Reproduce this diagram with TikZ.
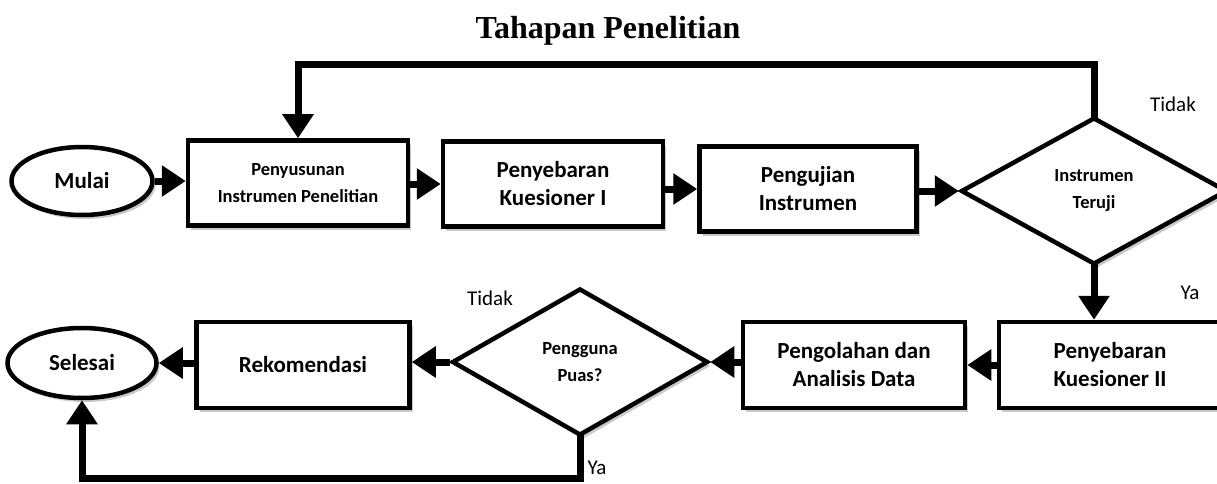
\documentclass[tikz,border=0pt]{standalone}
\usepackage{fontspec}
\setmainfont{Carlito}
\newfontfamily\titlefont{Liberation Serif}
\usetikzlibrary{arrows.meta,shapes.geometric,shadows}
\begin{document}
\begin{tikzpicture}[x=1pt,y=-1pt,
  base/.style={draw=black, line width=4.5pt, fill=white, align=center,
    drop shadow={shadow xshift=3pt, shadow yshift=-4pt, opacity=0.3, fill=black!70}},
  procbox/.style={base, rectangle, minimum width=217pt, minimum height=85pt, inner sep=2pt},
  termbox/.style={base, ellipse, minimum width=141pt, minimum height=68pt, inner sep=0pt},
  decbox/.style={base, diamond, inner sep=0pt},
  bigtxt/.style={font=\bfseries\fontsize{23}{28}\selectfont},
  smalltxt/.style={font=\bfseries\fontsize{18.5}{27}\selectfont},
  conn/.style={line width=7pt, -{Triangle[length=24pt,width=30pt]}},
  lbl/.style={font=\fontsize{21}{24}\selectfont}
]
\useasboundingbox (0,0) rectangle (1217,484);

\node[font=\titlefont\bfseries\fontsize{32}{36}\selectfont] (title) at (608,31) {Tahapan Penelitian};

% top row
\node[termbox, bigtxt] (mulai) at (82,181) {Mulai};
\node[procbox, minimum width=220pt, smalltxt] (susun) at (298,183) {Penyusunan\\Instrumen Penelitian};
\node[procbox, minimum width=220pt, bigtxt] (sebar1) at (553,184) {Penyebaran\\Kuesioner I};
\node[procbox, bigtxt] (uji) at (808,189) {Pengujian\\Instrumen};
\node[decbox, minimum width=266pt, minimum height=147pt, smalltxt] (teruji) at (1094,191) {Instrumen\\Teruji};

% bottom row
\node[procbox, minimum width=222pt, minimum height=86pt, bigtxt] (sebar2) at (1110,365) {Penyebaran\\Kuesioner II};
\node[procbox, minimum width=222pt, minimum height=86pt, bigtxt] (olah) at (854,365) {Pengolahan dan\\Analisis Data};
\node[decbox, minimum width=256pt, minimum height=147pt, smalltxt] (puas) at (580,362) {Pengguna\\Puas?};
\node[procbox, minimum width=213pt, minimum height=86pt, bigtxt] (rekom) at (303,365) {Rekomendasi};
\node[termbox, minimum width=149pt, minimum height=70pt, bigtxt] (selesai) at (82,363) {Selesai};

% helper coordinates
\coordinate (toprow) at (0,65);
\coordinate (botrow) at (0,478);

% connectors
\draw[conn] (mulai.east) -- (mulai.east -| susun.west);
\draw[conn] (susun.east |- sebar1.west) -- (sebar1.west);
\draw[conn] (sebar1.east |- uji.west) -- (uji.west);
\draw[conn] (uji.east |- teruji.west) -- (teruji.west);
\draw[conn] ([yshift=-6pt]teruji.north) -- (teruji.north |- toprow) -| (susun.north);
\draw[conn] ([yshift=6pt]teruji.south) -- (teruji.south |- sebar2.north);
\draw[conn] (sebar2.west |- olah.east) -- (olah.east);
\draw[conn] (olah.west |- puas.east) -- (puas.east);
\draw[conn] (puas.west) -- (puas.west -| rekom.east);
\draw[conn] (rekom.west |- selesai.east) -- (selesai.east);
\draw[conn] ([yshift=6pt]puas.south) -- (puas.south |- botrow) -| (selesai.south);

% labels
\node[lbl] (tidak1) at (1173,104) {Tidak};
\node[lbl] (ya1) at (1190,293) {Ya};
\node[lbl] (tidak2) at (490,298) {Tidak};
\node[lbl] (ya2) at (597,468) {Ya};
\end{tikzpicture}
\end{document}
